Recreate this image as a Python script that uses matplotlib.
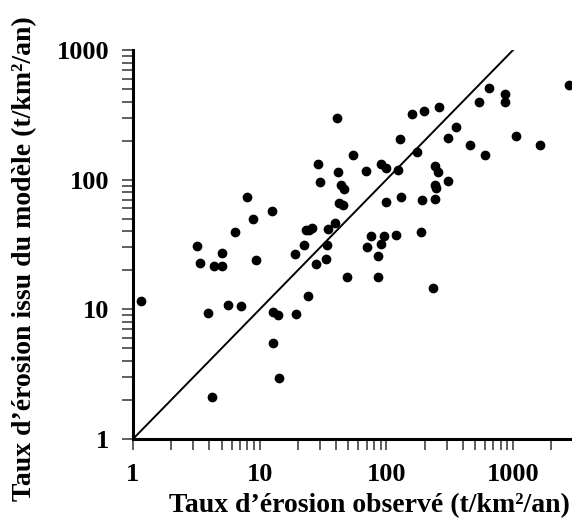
import numpy as np
import matplotlib.pyplot as plt

observe = [2780, 641, 538, 863, 863, 262, 198, 160, 40.5, 354, 306, 1047, 127, 454, 1630,
           600, 173, 54.8, 28.8, 41.3, 69, 91, 98.7, 123, 240, 257, 29.9, 43.6, 46.3, 242,
           246, 306, 8.0, 12.6, 8.9, 6.42, 3.18, 3.38, 4.33, 5.01, 5.07, 9.3, 1.15, 3.93,
           5.65, 7.16, 12.7, 14.0, 19.3, 12.7, 24.2, 19.0, 22.4, 23.2, 24.5, 25.7, 34.6,
           39.1, 34.2, 28.0, 33.2, 48.6, 42.5, 45.2, 99.8, 131, 192, 242, 189, 76, 96.3,
           119, 70.3, 90.2, 86.3, 86.3, 235, 14.3, 4.18]
modele = [533, 511, 399, 457, 399, 365, 338, 320, 297, 255, 210, 219, 205, 185, 186,
          155, 162, 156, 133, 114, 117, 132, 123, 119, 127, 114, 95.3, 90.8, 84.7, 90.8,
          85.7, 97, 73.8, 56.9, 49.7, 39.7, 30.6, 22.9, 21.6, 21.7, 27.0, 24.1, 11.5, 9.31,
          10.8, 10.7, 9.48, 9.04, 9.2, 5.47, 12.7, 26.8, 31.3, 40.6, 40.6, 42.6, 41.6,
          46.3, 31.5, 22.2, 24.3, 17.6, 65.6, 63.7, 66.8, 73.8, 69.6, 70.9, 39.2, 36.5, 36.5,
          37.2, 30.1, 31.9, 25.6, 17.6, 14.6, 2.94, 2.10]
ligne = [1, 1000]

plt.rcParams['font.family'] = ['Liberation Serif', 'DejaVu Serif']
plt.rcParams['font.weight'] = 'bold'

fig = plt.figure(figsize=(5.72, 5.24), dpi=100)
ax = fig.add_axes([0.2325, 0.1622, 0.7675, 0.7424])

ax.plot(ligne, ligne, color='black', lw=1.4)
ax.plot(observe, modele, 'o', color='black', markersize=6, clip_on=False)

ax.set_xscale('log')
ax.set_yscale('log')
ax.set_xlim(1, 2917)
ax.set_ylim(1, 1000)

for s in ['top', 'right']:
    ax.spines[s].set_visible(False)
ax.spines['left'].set_linewidth(2.2)
ax.spines['bottom'].set_linewidth(2.2)

ax.tick_params(which='both', direction='out', length=8, width=1.1, color='#333333')
ax.tick_params(which='major', labelsize=19, pad=9)
ax.set_xticks([1, 10, 100, 1000])
ax.set_xticklabels(['1', '10', '100', '1000'])
ax.set_yticks([1, 10, 100, 1000])
ax.set_yticklabels(['1', '10', '100', '1000'])
for lab in ax.get_xticklabels() + ax.get_yticklabels():
    lab.set_fontweight('bold')

ax.set_xlabel('Taux d’érosion observé (t/km²/an)', fontsize=20, fontweight='bold', va='center')
ax.set_ylabel('Taux d’érosion issu du modèle (t/km²/an)', fontsize=20, fontweight='bold', va='center')
ax.xaxis.set_label_coords(0.538, -0.17)
ax.yaxis.set_label_coords(-0.246, 0.463)

fig.savefig('out.png', dpi=100)
